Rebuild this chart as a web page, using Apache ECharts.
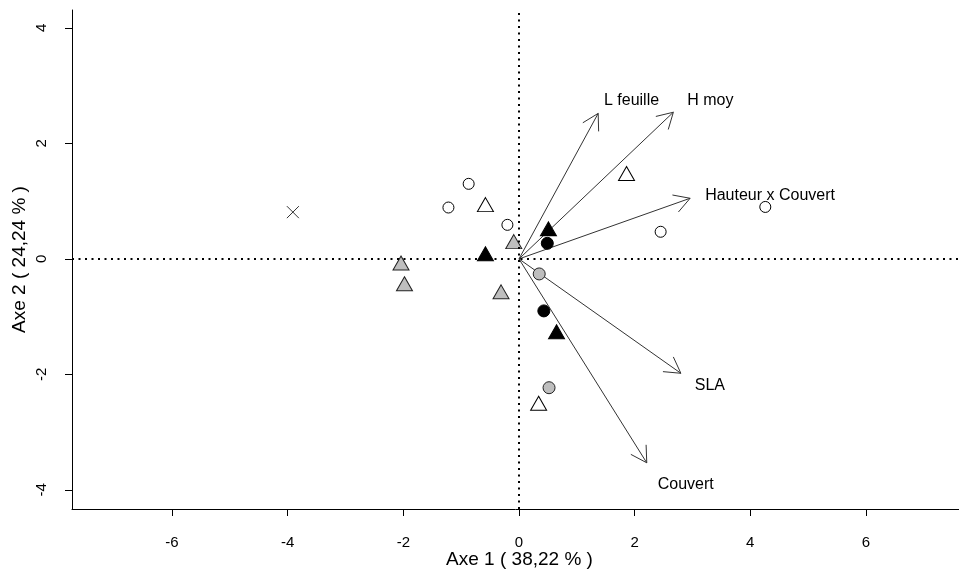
<!DOCTYPE html>
<html>
<head>
<meta charset="utf-8">
<script src="https://cdn.jsdelivr.net/npm/echarts@6/dist/echarts.min.js"></script>
<style>html,body{margin:0;padding:0;background:#fff}#c{width:959px;height:571px}</style>
</head>
<body>
<div id="c"></div>
<script>
// ---- data ----
const xTicks = [-6, -4, -2, 0, 2, 4, 6];
const yTicks = [-4, -2, 0, 2, 4];
const xTitle = 'Axe 1 ( 38,22 % )';
const yTitle = 'Axe 2 ( 24,24 % )';

const openCircles    = [[-0.87, 1.30], [-1.22, 0.89], [-0.20, 0.59], [2.45, 0.47], [4.26, 0.90]];
const openTriangles  = [[-0.58, 0.94], [1.86, 1.48], [0.34, -2.50]];
const grayTriangles  = [[-0.09, 0.30], [-2.04, -0.07], [-1.98, -0.43], [-0.31, -0.57]];
const blackTriangles = [[-0.58, 0.09], [0.51, 0.52], [0.65, -1.26]];
const blackCircles   = [[0.49, 0.27], [0.43, -0.90]];
const grayCircles    = [[0.35, -0.26], [0.52, -2.23]];
const crosses        = [[-3.91, 0.81]];

const varNames = ['L feuille', 'H moy', 'Hauteur x Couvert', 'SLA', 'Couvert'];
const varX     = [1.37, 2.67, 2.96, 2.80, 2.21];
const varY     = [2.52, 2.54, 1.05, -1.98, -3.53];
const labelX   = [1.47, 2.91, 3.22, 3.04, 2.40];
const labelY   = [2.74, 2.75, 1.09, -2.20, -3.90];

// ---- chart ----
const FONT = '"Liberation Sans", Arial, sans-serif';
const chart = echarts.init(document.getElementById('c'), null, {renderer: 'canvas'});

const arrowData = varNames.map((n, i) => [varX[i], varY[i], labelX[i], labelY[i], i]);

function scatter(name, data, symbol, size, fill, stroke) {
  return {
    name, type: 'scatter', data, symbol, symbolSize: size,
    itemStyle: {color: fill, borderColor: stroke, borderWidth: 1, opacity: 1},
    z: 4, silent: true
  };
}

const option = {
  animation: false,
  backgroundColor: '#fff',
  grid: {left: 72, right: 0, top: 10, bottom: 62, containLabel: false, outerBoundsMode: 'none'},
  xAxis: {
    type: 'value', min: -7.73, max: 7.61,
    name: xTitle, nameLocation: 'middle', nameGap: 41, nameMoveOverlap: false,
    nameTextStyle: {fontFamily: FONT, fontSize: 19, color: '#000', padding: [0, 0, 0, 8]},
    axisLine: {show: true, onZero: false, lineStyle: {color: '#000', width: 1}},
    axisTick: {show: true, length: 7, inside: false, customValues: xTicks, lineStyle: {color: '#000'}},
    axisLabel: {customValues: xTicks, margin: 26, fontFamily: FONT, fontSize: 15, color: '#000'},
    splitLine: {show: false}
  },
  yAxis: {
    type: 'value', min: -4.33, max: 4.31,
    name: yTitle, nameLocation: 'middle', nameGap: 43, nameRotate: 90, nameMoveOverlap: false,
    nameTextStyle: {fontFamily: FONT, fontSize: 19, color: '#000'},
    axisLine: {show: true, onZero: false, lineStyle: {color: '#000', width: 1}},
    axisTick: {show: true, length: 7, inside: false, customValues: yTicks, lineStyle: {color: '#000'}},
    axisLabel: {customValues: yTicks, rotate: 90, margin: 23, fontFamily: FONT, fontSize: 15, color: '#000'},
    splitLine: {show: false}
  },
  series: [
    {
      type: 'custom', name: 'variables', data: arrowData, z: 3, silent: true,
      renderItem: function (params, api) {
        const o = api.coord([0, 0]);
        const t = api.coord([api.value(0), api.value(1)]);
        const l = api.coord([api.value(2), api.value(3)]);
        const name = varNames[api.value(4)];
        const ang = Math.atan2(t[1] - o[1], t[0] - o[0]);
        const L = 18, a = Math.PI / 6;
        const h1 = [t[0] - L * Math.cos(ang - a), t[1] - L * Math.sin(ang - a)];
        const h2 = [t[0] - L * Math.cos(ang + a), t[1] - L * Math.sin(ang + a)];
        const st = {stroke: '#333', lineWidth: 1, fill: null};
        return {
          type: 'group',
          children: [
            {type: 'line', shape: {x1: o[0], y1: o[1], x2: t[0], y2: t[1]}, style: st},
            {type: 'polyline', shape: {points: [h1, t, h2]}, style: st},
            {type: 'text', x: l[0], y: l[1], style: {text: name, fill: '#000', font: '16px ' + FONT, textAlign: 'left', textVerticalAlign: 'middle'}}
          ]
        };
      },
      markLine: {
        silent: true, symbol: ['none', 'none'], label: {show: false},
        lineStyle: {color: '#000', type: [2, 4.5], width: 2},
        data: [{xAxis: 0}, {yAxis: 0}]
      }
    },
    scatter('open circles', openCircles, 'circle', 11, '#fff', '#000'),
    scatter('open triangles', openTriangles, 'triangle', [16, 14], '#fff', '#000'),
    scatter('gray triangles', grayTriangles, 'triangle', [16, 14], '#bebebe', '#222'),
    scatter('black triangles', blackTriangles, 'triangle', [16, 14], '#000', '#000'),
    scatter('black circles', blackCircles, 'circle', 12, '#000', '#000'),
    scatter('gray circles', grayCircles, 'circle', 12, '#bebebe', '#222'),
    {
      name: 'cross', type: 'scatter', data: crosses,
      symbol: 'path://M0,0L10,10M10,0L0,10', symbolSize: 12,
      itemStyle: {color: 'none', borderColor: '#000', borderWidth: 1},
      z: 4, silent: true
    }
  ]
};
chart.setOption(option);
</script>
</body>
</html>
